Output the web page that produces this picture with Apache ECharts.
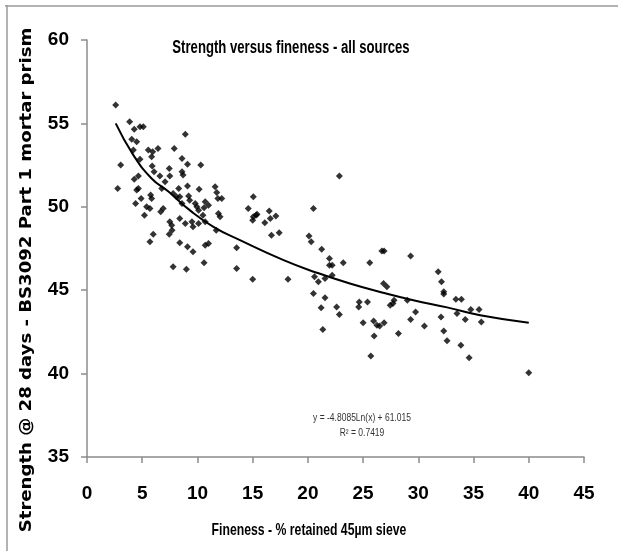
<!DOCTYPE html>
<html>
<head>
<meta charset="utf-8">
<script src="https://cdn.jsdelivr.net/npm/echarts@6/dist/echarts.min.js"></script>
<style>html,body{margin:0;padding:0;background:#fff}#c{width:618px;height:551px}</style>
</head>
<body>
<div id="c"></div>
<script>
const titleText = "Strength versus fineness - all sources";
const xAxisName = "Fineness - % retained 45\u00B5m sieve";
const yAxisName = "Strength @ 28 days - BS3092 Part 1 mortar prism";
const equationLine1 = "y = -4.8085Ln(x) + 61.015";
const equationLine2 = "R\u00B2 = 0.7419";
const xTicks = [0, 5, 10, 15, 20, 25, 30, 35, 40, 45];
const yTicks = [35, 40, 45, 50, 55, 60];

const finenessValues = [
  2.6,3.86,4.28,4.8,5.1,4.05,4.5,3.05,2.78,4.2,4.8,5.55,5.95,6.43,5.85,5.9,6.07,4.28,4.65,4.5,4.65,4.4,4.9,5.4,5.7,5.2,5.76,5.85,
  6.6,6.77,6.9,6.67,7.07,7.45,7.5,7.9,8.6,8.9,9.1,8.6,8.7,8.3,7.8,8.1,8.4,9.1,9.2,8.6,10.15,10.3,9.3,9.8,9.95,10.1,10.7,10.6,11.0,
  11.6,11.75,12.2,11.85,11.9,12.05,7.5,7.67,8.4,8.9,9.5,9.6,10.1,10.5,10.7,11.7,6.0,5.7,7.45,7.7,8.4,9.1,9.6,10.7,11.0,10.6,7.8,9.0,
  13.55,13.55,14.6,15.06,15.06,15.4,15.3,15.0,
  22.85,16.5,17.1,16.6,16.1,16.7,17.4,15.0,18.2,20.5,20.1,20.3,21.25,21.95,21.95,22.2,23.2,20.6,20.95,21.55,22.2,20.5,21.55,21.2,22.6,22.85,21.35,
  24.65,25.4,24.6,25.6,26.7,26.9,26.85,27.15,25.0,25.95,26.25,26.5,26.9,26.0,28.2,25.7,27.45,27.7,27.8,
  29.3,29.0,29.75,29.3,30.55,31.8,32.1,32.3,32.3,33.4,33.9,33.5,34.75,35.5,32.05,34.25,35.7,32.3,32.6,33.85,34.6,40.0
];
const strengthValues = [
  56.1,55.1,54.65,54.8,54.8,54.05,53.9,52.5,51.1,53.4,52.85,53.4,53.3,53.5,53.0,52.45,52.1,51.65,51.85,51.0,51.1,50.2,50.5,50.0,49.9,49.5,50.7,50.5,
  51.85,51.1,49.9,49.7,51.5,52.3,51.85,53.5,52.9,54.35,52.55,52.1,51.9,51.1,50.8,50.6,50.6,51.25,50.65,50.2,51.05,52.5,50.4,50.2,50.0,49.8,50.3,49.95,50.1,
  51.2,50.85,50.5,50.5,49.6,49.4,49.1,48.9,49.3,49.0,49.1,48.8,49.0,49.5,49.1,48.6,48.35,47.9,48.35,48.6,47.85,47.6,47.3,47.7,47.8,46.65,46.4,46.25,
  47.55,46.3,49.9,50.6,49.4,49.55,49.5,49.2,
  51.85,49.75,49.45,49.3,49.05,48.3,48.45,45.65,45.65,49.9,48.25,47.9,47.45,46.9,46.5,46.5,46.65,45.8,45.5,45.7,45.9,44.8,44.55,43.95,44.0,43.55,42.65,
  44.3,44.3,44.0,46.65,47.35,47.35,45.4,45.2,43.05,43.15,42.9,42.85,43.05,42.25,42.4,41.05,44.1,44.2,44.4,
  47.05,44.4,43.7,43.25,42.85,46.1,45.5,44.9,44.77,44.45,44.45,43.6,43.85,43.85,43.4,43.25,43.1,42.55,41.97,41.7,40.95,40.05
];
const trendX = [2.6, 4.2, 5.85, 7.4, 9.3, 11.45, 13.85, 17.8, 20.8, 23.8, 26.8, 29.55, 32.6, 35.6, 40.0];
const trendY = [55.0, 53.1, 51.7, 50.9, 49.8, 48.8, 48.0, 46.8, 46.05, 45.4, 44.85, 44.4, 43.97, 43.5, 43.05];

const scatterData = finenessValues.map((x, i) => [x, strengthValues[i]]);
const trendData = trendX.map((x, i) => [x, trendY[i]]);

const chart = echarts.init(document.getElementById('c'), null, {renderer: 'canvas'});
const sans = '"Liberation Sans", Arial, sans-serif';
chart.setOption({
  backgroundColor: '#fff',
  animation: false,
  grid: {left: 87, right: 34, top: 40, bottom: 94, containLabel: false, outerBoundsMode: 'none'},
  xAxis: {
    type: 'value', min: xTicks[0], max: xTicks[xTicks.length - 1], interval: 5,
    axisLine: {show: true, lineStyle: {color: '#8c8c8c', width: 1.5}},
    axisTick: {show: true, inside: false, length: 6, lineStyle: {color: '#8c8c8c', width: 1.5}},
    axisLabel: {margin: 27, fontFamily: sans, fontWeight: 'bold', fontSize: 19, color: '#000'},
    splitLine: {show: false}
  },
  yAxis: {
    type: 'value', min: yTicks[0], max: yTicks[yTicks.length - 1], interval: 5,
    axisLine: {show: true, lineStyle: {color: '#8c8c8c', width: 1.5}},
    axisTick: {show: true, inside: false, length: 6, lineStyle: {color: '#8c8c8c', width: 1.5}},
    axisLabel: {margin: 18, fontFamily: sans, fontWeight: 'bold', fontSize: 19, color: '#000'},
    splitLine: {show: false}
  },
  graphic: [
    {type: 'line', shape: {x1: 5, y1: 6, x2: 618, y2: 6}, style: {stroke: '#9a9a9a', lineWidth: 1.5}},
    {type: 'line', shape: {x1: 7, y1: 5, x2: 7, y2: 551}, style: {stroke: '#9a9a9a', lineWidth: 1.5}},
    {type: 'text', x: 291, y: 48, scaleX: 0.73,
     style: {text: titleText, align: 'center', verticalAlign: 'middle', textAlign: 'center', textVerticalAlign: 'middle',
             font: 'bold 18px "Liberation Sans", Arial, sans-serif', fill: '#000'}},
    {type: 'text', x: 309, y: 530, scaleX: 0.72,
     style: {text: xAxisName, align: 'center', verticalAlign: 'middle', textAlign: 'center', textVerticalAlign: 'middle',
             font: 'bold 17px "Liberation Sans", Arial, sans-serif', fill: '#000'}},
    {type: 'text', x: 27, y: 280, rotation: Math.PI / 2, scaleX: 1.13,
     style: {text: yAxisName, align: 'center', verticalAlign: 'middle', textAlign: 'center', textVerticalAlign: 'middle',
             font: 'bold 16px "DejaVu Sans", sans-serif', fill: '#000'}},
    {type: 'text', x: 362, y: 418, scaleX: 0.85,
     style: {text: equationLine1, align: 'center', verticalAlign: 'middle', textAlign: 'center', textVerticalAlign: 'middle',
             font: '10px "Liberation Sans", Arial, sans-serif', fill: '#333'}},
    {type: 'text', x: 362, y: 433, scaleX: 0.85,
     style: {text: equationLine2, align: 'center', verticalAlign: 'middle', textAlign: 'center', textVerticalAlign: 'middle',
             font: '10px "Liberation Sans", Arial, sans-serif', fill: '#333'}}
  ],
  series: [
    {
      type: 'scatter', data: scatterData, symbol: 'diamond', symbolSize: 7,
      itemStyle: {color: '#000'}, z: 3
    },
    {
      type: 'line', data: trendData, smooth: true, showSymbol: false, symbol: 'none',
      lineStyle: {color: '#000', width: 2}, z: 2
    }
  ]
});
</script>
</body>
</html>
